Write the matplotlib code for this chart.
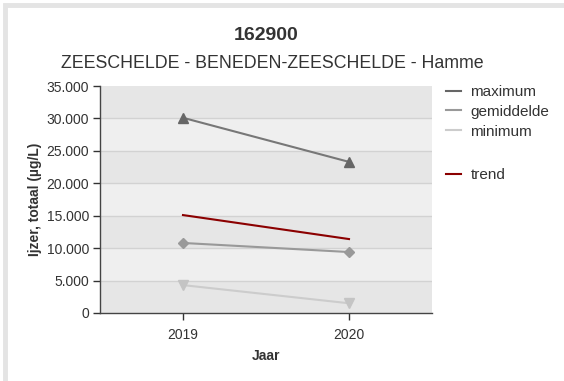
import matplotlib
matplotlib.use("Agg")
import matplotlib.pyplot as plt
from matplotlib.lines import Line2D
from matplotlib.patches import Rectangle
from matplotlib.ticker import FuncFormatter

plt.rcParams["font.family"] = ["Liberation Sans", "DejaVu Sans"]

years = [2019, 2020]
year_labels = ["2019", "2020"]
maximum = [30100, 23300]
gemiddelde = [10800, 9400]
minimum = [4300, 1500]
trend = [15100, 11400]

TXT = "#333333"

fig = plt.figure(figsize=(5.64, 3.81), dpi=100)
# light grey frame (top/left only visible)
fig.patches.append(Rectangle((5 / 564, -0.1), 1.2, 1 - 5 / 381 + 0.1,
                             transform=fig.transFigure, fill=False,
                             edgecolor="#e4e4e4", lw=3.5, zorder=0))

ax = fig.add_axes([100 / 564, 1 - 313 / 381, 332 / 564, 227 / 381])
ax.set_facecolor("white")

# alternating bands
for k, lo in enumerate(range(0, 35000, 5000)):
    c = "#e6e6e6" if k % 2 == 0 else "#efefef"
    ax.axhspan(lo, lo + 5000, color=c, zorder=0, lw=0)
for v in range(5000, 35000, 5000):
    ax.axhline(v, color="#d2d2d2", lw=1.0, zorder=1)

ax.plot(years, maximum, color="#777777", lw=1.5, zorder=3)
ax.plot(years, maximum, ls="none", marker="^", ms=7, color="#666666", zorder=4)
ax.plot(years, gemiddelde, color="#999999", lw=1.5, zorder=3)
ax.plot(years, gemiddelde, ls="none", marker="D", ms=5.5, color="#999999", zorder=4)
ax.plot(years, minimum, color="#cccccc", lw=1.5, zorder=3)
ax.plot(years, minimum, ls="none", marker="v", ms=7, color="#c4c4c4", zorder=4)
ax.plot(years, trend, color="#8b0000", lw=1.5, zorder=3)

ax.set_xlim(2018.5, 2020.5)
ax.set_ylim(0, 35000)
ax.set_xticks(years)
ax.set_xticklabels(year_labels)
ax.set_yticks(range(0, 35001, 5000))
ax.yaxis.set_major_formatter(FuncFormatter(lambda v, p: f"{int(v):,}".replace(",", ".")))
ax.tick_params(axis="both", labelsize=10, colors=TXT, length=5, width=1, direction="out")
ax.tick_params(axis="x", pad=6)
ax.tick_params(axis="y", pad=3)
for sp in ("top", "right"):
    ax.spines[sp].set_visible(False)
for sp in ("left", "bottom"):
    ax.spines[sp].set_color("#444444")
    ax.spines[sp].set_linewidth(1)

ax.set_xlabel("Jaar", fontsize=10, fontweight="bold", color=TXT, labelpad=5)
ax.set_ylabel("Ijzer, totaal (µg/L)", fontsize=10, fontweight="bold", color=TXT, labelpad=3)

fig.text(266 / 564, 1 - 35 / 381, "162900", ha="center", va="center",
         fontsize=14, fontweight="bold", color=TXT)
fig.text(272 / 564, 1 - 63 / 381, "ZEESCHELDE - BENEDEN-ZEESCHELDE - Hamme",
         ha="center", va="center", fontsize=12.8, color=TXT)

stat_handles = [Line2D([0], [0], color="#666666", lw=1.5),
                Line2D([0], [0], color="#999999", lw=1.5),
                Line2D([0], [0], color="#cccccc", lw=1.5)]
stat_labels = ["maximum", "gemiddelde", "minimum"]
leg_kw = dict(loc="upper left", frameon=False, fontsize=11, handlelength=1.0,
              handletextpad=0.6, labelspacing=0.38, borderaxespad=0, borderpad=0)
leg1 = fig.legend(stat_handles, stat_labels, bbox_to_anchor=(446 / 564, 1 - 85 / 381), **leg_kw)
leg2 = fig.legend([Line2D([0], [0], color="#8b0000", lw=1.5)], ["trend"],
                  bbox_to_anchor=(446 / 564, 1 - 168 / 381), **leg_kw)
for leg in (leg1, leg2):
    for t in leg.get_texts():
        t.set_color(TXT)

fig.savefig("out.png", dpi=100)
